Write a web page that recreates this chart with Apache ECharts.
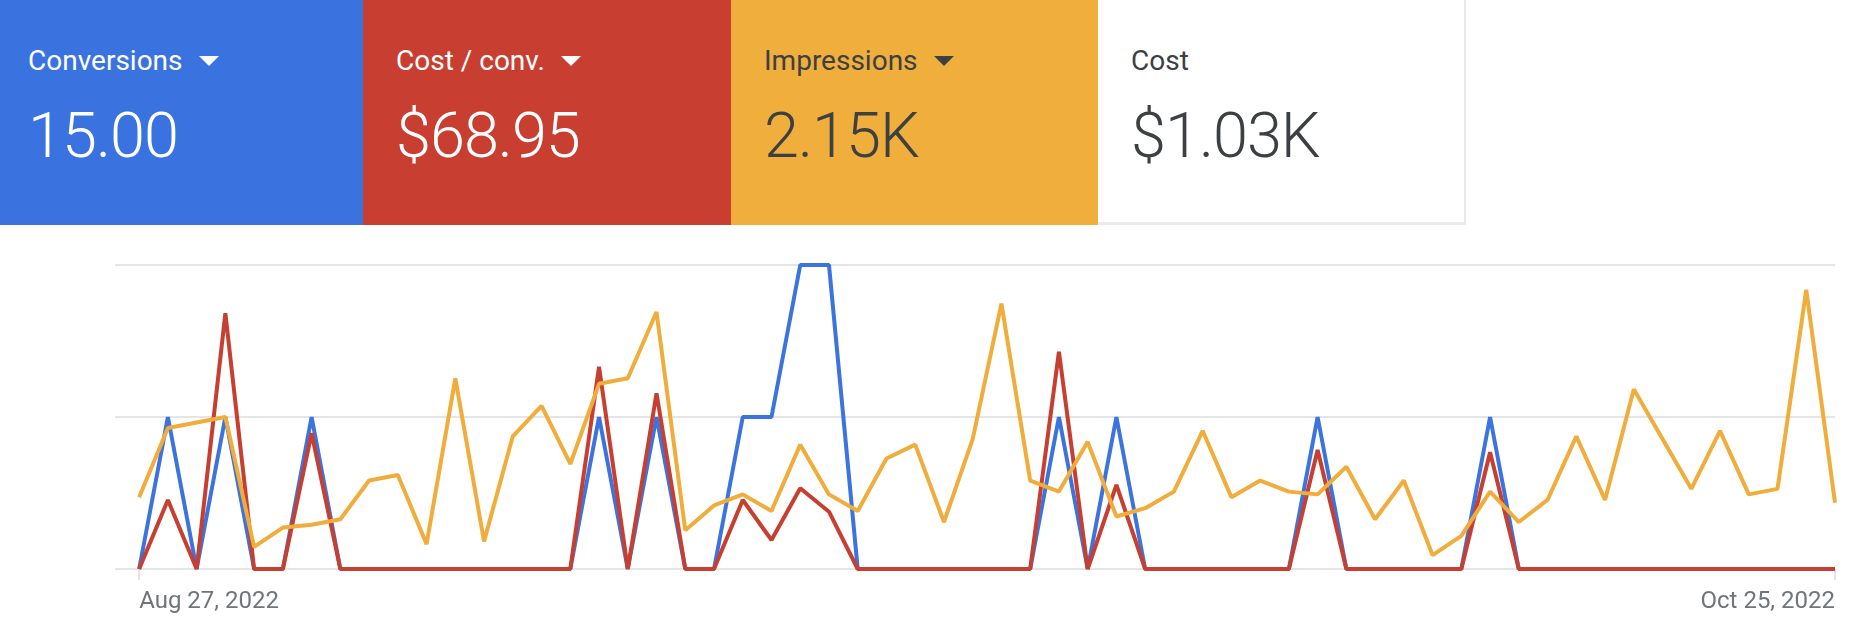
<!DOCTYPE html>
<html>
<head>
<meta charset="utf-8">
<title>Conversions</title>
<script src="https://cdn.jsdelivr.net/npm/echarts@6/dist/echarts.min.js"></script>
<style>
  html, body { margin: 0; padding: 0; background: #fff; }
  body { width: 1852px; height: 630px; position: relative; overflow: hidden; font-family: Roboto, "Noto Sans", sans-serif; }
  #chart { position: absolute; left: 0; top: 0; width: 1852px; height: 630px; }
  .card { position: absolute; top: 0; height: 225px; box-sizing: border-box; }
  .card .name { position: absolute; top: 47px; font-size: 28px; line-height: 28px; white-space: nowrap; }
  .card .value { position: absolute; top: 104px; font-size: 63px; line-height: 64px; font-weight: 300; letter-spacing: -1px; white-space: nowrap; }
  .arrow { display: inline-block; width: 0; height: 0; margin-left: 16px; vertical-align: 4px;
           border-left: 10px solid transparent; border-right: 10px solid transparent; border-top: 10px solid currentColor; }
</style>
</head>
<body>
<div id="chart"></div>
<div id="cards"></div>
<script>
// metric cards
var cardNames = ['Conversions', 'Cost / conv.', 'Impressions', 'Cost'];
var cardValues = ['15.00', '$68.95', '2.15K', '$1.03K'];
var cardColors = ['#3a73e0', '#c83f31', '#f0ae3c', '#ffffff'];
var cardText = ['#ffffff', '#ffffff', '#3c4043', '#3c4043'];
var cardArrow = [true, true, true, false];

// daily data, Aug 27 - Oct 25, 2022
var conversions = [0, 1, 0, 1, 0, 0, 1, 0, 0, 0,
                   0, 0, 0, 0, 0, 0, 1, 0, 1, 0,
                   0, 1, 1, 2, 2, 0, 0, 0, 0, 0,
                   0, 0, 1, 0, 1, 0, 0, 0, 0, 0,
                   0, 1, 0, 0, 0, 0, 0, 1, 0, 0,
                   0, 0, 0, 0, 0, 0, 0, 0, 0, 0];
var costPerConv = [0, 34.05, 0, 126.15, 0, 0, 66.98, 0, 0, 0,
                   0, 0, 0, 0, 0, 0, 99.83, 0, 86.70, 0,
                   0, 34.05, 14.33, 39.83, 28.28, 0, 0, 0, 0, 0,
                   0, 0, 107.25, 0, 41.48, 0, 0, 0, 0, 0,
                   0, 58.73, 0, 0, 0, 0, 0, 57.60, 0, 0,
                   0, 0, 0, 0, 0, 0, 0, 0, 0, 0];
var impressions = [26, 51, 53, 55, 8, 15, 16, 18, 32, 34,
                   9, 69, 10, 48, 59, 38, 67, 69, 93, 14,
                   23, 27, 21, 45, 27, 21, 40, 45, 17, 47,
                   96, 32, 28, 46, 19, 22, 28, 50, 26, 32,
                   28, 27, 37, 18, 32, 5, 12, 28, 17, 25,
                   48, 25, 65, 47, 29, 50, 27, 29, 101, 24];
var lineColors = ['#3b73df', '#c63f30', '#f0ad3b'];
var tickDays = [0, 59];

var days = [];
var d = new Date(2022, 7, 27);
var months = ['Jan', 'Feb', 'Mar', 'Apr', 'May', 'Jun', 'Jul', 'Aug', 'Sep', 'Oct', 'Nov', 'Dec'];
for (var i = 0; i < conversions.length; i++) {
  days.push(months[d.getMonth()] + ' ' + d.getDate() + ', ' + d.getFullYear());
  d.setDate(d.getDate() + 1);
}

// build the cards
var cardLeft = [0, 363, 731, 1098];
var cardWidth = [363, 368, 367, 368];
var textLeft = [28, 33, 33, 33];
var html = '';
for (var c = 0; c < cardNames.length; c++) {
  var border = c === 3 ? 'border-right:2px solid #e8eaed;border-bottom:3px solid #e8eaed;' : '';
  html += '<div class="card" style="left:' + cardLeft[c] + 'px;width:' + cardWidth[c] + 'px;background:' +
    cardColors[c] + ';color:' + cardText[c] + ';' + border + '">' +
    '<div class="name" style="left:' + textLeft[c] + 'px">' + cardNames[c] +
    (cardArrow[c] ? '<span class="arrow"></span>' : '') + '</div>' +
    '<div class="value" style="left:' + textLeft[c] + 'px">' + cardValues[c] + '</div></div>';
}
document.getElementById('cards').innerHTML = html;

function pairs(list) {
  return list.map(function (v, i) { return [i, v]; });
}

var chart = echarts.init(document.getElementById('chart'));
var option = {
  animation: false,
  grid: { left: 115, right: 17, top: 265, bottom: 61 },
  xAxis: {
    type: 'value',
    min: -0.84,
    max: 59,
    axisLine: { show: false },
    splitLine: { show: false },
    axisTick: {
      show: true,
      customValues: tickDays,
      length: 11,
      lineStyle: { color: '#dadce0', width: 1.5 }
    },
    axisLabel: {
      customValues: tickDays,
      alignMinLabel: 'left',
      alignMaxLabel: 'right',
      margin: 21,
      fontSize: 24,
      fontFamily: 'Roboto',
      color: '#70757a',
      formatter: function (v) { return days[Math.round(v)]; }
    }
  },
  yAxis: [{
    type: 'value',
    min: 0,
    max: 2,
    interval: 1,
    axisLine: { show: false },
    axisTick: { show: false },
    axisLabel: { show: false },
    splitLine: { lineStyle: { color: '#dadce0', width: 1.5 } }
  }, {
    type: 'value',
    min: 0,
    max: 150,
    show: false,
    splitLine: { show: false }
  }, {
    type: 'value',
    min: 0,
    max: 110,
    show: false,
    splitLine: { show: false }
  }],
  series: [{
    name: 'Conversions',
    type: 'line',
    yAxisIndex: 0,
    data: pairs(conversions),
    showSymbol: false,
    lineStyle: { color: lineColors[0], width: 4 },
    z: 2
  }, {
    name: 'Cost / conv.',
    type: 'line',
    yAxisIndex: 1,
    data: pairs(costPerConv),
    showSymbol: false,
    lineStyle: { color: lineColors[1], width: 4 },
    z: 3
  }, {
    name: 'Impressions',
    type: 'line',
    yAxisIndex: 2,
    data: pairs(impressions),
    showSymbol: false,
    lineStyle: { color: lineColors[2], width: 4 },
    z: 4
  }]
};
chart.setOption(option);
</script>
</body>
</html>
